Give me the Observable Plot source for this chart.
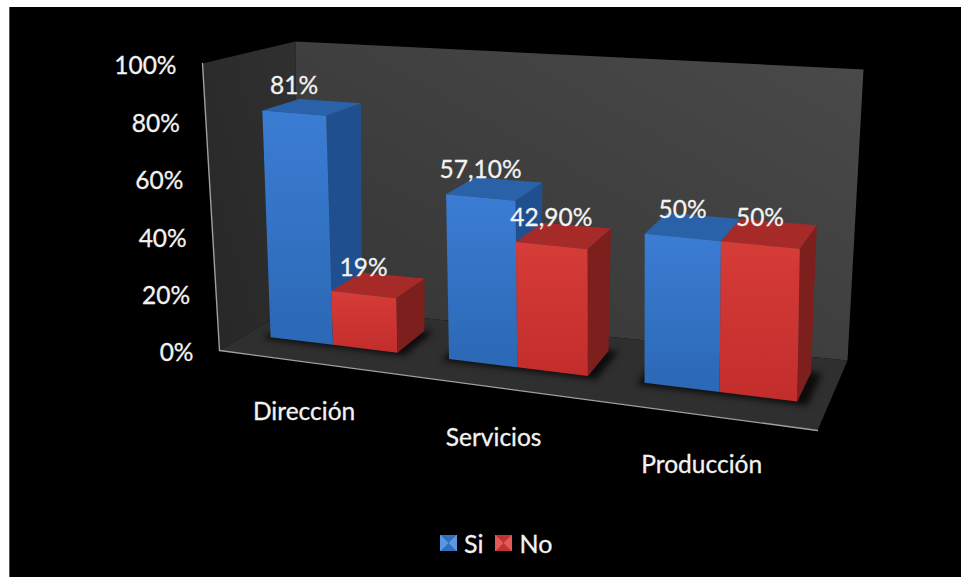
<!DOCTYPE html>
<html lang="es">
<head>
<meta charset="utf-8">
<title>Si / No por área</title>
<script src="https://cdn.jsdelivr.net/npm/d3@7"></script>
<script src="https://cdn.jsdelivr.net/npm/@observablehq/plot@0.6"></script>
<style>
  html, body { margin: 0; padding: 0; background: #fff; }
  body { width: 961px; height: 577px; overflow: hidden; position: relative; font-family: Lato, sans-serif; }
  #panel { position: absolute; left: 9px; top: 7px; right: 0; bottom: 0; background: #000; border-left: 1px solid #555; }
  #chart { position: absolute; left: 0; top: 0; }
  #chart svg { display: block; background: transparent; }
  #legend { position: absolute; left: 440px; top: 526px; display: flex; align-items: center; color: #f2f2f2; font-size: 25px; line-height: 34px; -webkit-text-stroke: 0.3px #f2f2f2; }
  #legend .swatch { display: inline-block; width: 17px; height: 16px; margin-right: 7px; filter: blur(0.5px); }
  #legend .entry { display: flex; align-items: center; margin-right: 12px; }
</style>
</head>
<body>
<div id="panel"></div>
<div id="chart"></div>
<div id="legend"></div>
<script>
// Survey answers per area, in percent.
const categories = ["Dirección", "Servicios", "Producción"];
const siValues = [81, 57.1, 50];
const noValues = [19, 42.9, 50];
const siLabels = ["81%", "57,10%", "50%"];
const noLabels = ["19%", "42,90%", "50%"];
const valueTicks = [0, 20, 40, 60, 80, 100];
const tickLabels = ["0%", "20%", "40%", "60%", "80%", "100%"];

const width = 961;
const height = 520;

// Corners of the 3D plot box on screen: front/back, bottom/top, left/right.
const box = {
  fbl: [219, 350], ftl: [202, 63], bbl: [295, 305], btl: [295, 41],
  fbr: [817, 430], ftr: [817, 114], bbr: [847, 360], btr: [863, 69]
};
const mix = (a, b, k) => [a[0] + (b[0] - a[0]) * k, a[1] + (b[1] - a[1]) * k];
const foreshorten = 0.15;

// t: along the category axis, depth: front to back, level: floor to ceiling (all 0 to 1).
function project(t, depth, level) {
  const u = t / (1 + foreshorten * (1 - t));
  const bottom = mix(mix(box.fbl, box.fbr, u), mix(box.bbl, box.bbr, u), depth);
  const top = mix(mix(box.ftl, box.ftr, u), mix(box.btl, box.btr, u), depth);
  return mix(bottom, top, level);
}

// Bar footprint inside each category band.
const barShare = 0.36;
const sideGap = (1 - 2 * barShare) / 2;
const depthFront = 0.36;
const depthBack = 0.78;

const series = [
  {name: "Si", values: siValues, labels: siLabels, front: "url(#siFront)", side: "#1f4f8f", top: "#2a62aa"},
  {name: "No", values: noValues, labels: noLabels, front: "url(#noFront)", side: "#7d1f1d", top: "#a52a28"}
];

const bars = categories.flatMap((category, c) => series.map((s, j) => ({
  category, series: s, value: s.values[c], label: s.labels[c],
  t0: (c + sideGap + j * barShare) / categories.length,
  t1: (c + sideGap + (j + 1) * barShare) / categories.length
})));

function polygon(id, fill, points) {
  return points.map(([x, y]) => ({id, fill, x, y}));
}

const wallPolys = [
  polygon("left", "url(#leftWall)", [project(0,0,0), project(0,0,1), project(0,1,1), project(0,1,0)]),
  polygon("back", "url(#backWall)", [project(0,1,0), project(0,1,1), project(1,1,1), project(1,1,0)]),
  polygon("floor", "#2f2f2f", [project(0,0,0), project(0,1,0), project(1,1,0), project(1,0,0)])
].flat();

// Soft contact shadow hugging the foot of each bar pair.
const shadowPolys = categories.flatMap((category, c) => {
  const a = (c + sideGap - 0.03) / categories.length;
  const b = (c + 1 - sideGap + 0.05) / categories.length;
  return polygon("shadow" + c, "#0c0c0c", [
    project(a, depthFront - 0.04, 0), project(a, depthBack, 0),
    project(b, depthBack + 0.01, 0), project(b, depthFront - 0.04, 0)
  ]);
});

const barFaces = bars.flatMap((b, i) => {
  const h = b.value / 100;
  const {t0, t1, series: s} = b;
  return [
    polygon(`side${i}`, s.side, [project(t1, depthFront, 0), project(t1, depthFront, h), project(t1, depthBack, h), project(t1, depthBack, 0)]),
    polygon(`top${i}`, s.top, [project(t0, depthFront, h), project(t0, depthBack, h), project(t1, depthBack, h), project(t1, depthFront, h)]),
    polygon(`front${i}`, s.front, [project(t0, depthFront, 0), project(t0, depthFront, h), project(t1, depthFront, h), project(t1, depthFront, 0)])
  ].flat();
});

const axisLines = [
  polygon("valueAxis", "none", [project(0,0,0), project(0,0,1)]),
  polygon("categoryAxis", "none", [project(0,0,0), project(1,0,0)])
].flat();

const tickRows = valueTicks.map((v, i) => {
  const [x, y] = project(0, 0, v / 100);
  return {x, y, text: tickLabels[i]};
});

const categoryRows = categories.map((text, c) => {
  const [x, y] = project((c + 0.5) / categories.length, 0, 0);
  return {x, y, text};
});

// Value labels sit above the middle of each bar's front top edge.
const valueRows = bars.map((b) => {
  const [x, y] = project((b.t0 + b.t1) / 2, depthFront, b.value / 100);
  return {x, y, text: b.label};
});

function gradient(defs, id, [x1, y1, x2, y2], stops) {
  const g = defs.append("linearGradient").attr("id", id)
    .attr("x1", x1).attr("y1", y1).attr("x2", x2).attr("y2", y2);
  stops.forEach(([offset, color]) => g.append("stop").attr("offset", offset).attr("stop-color", color));
}

function gradients() {
  const svg = d3.create("svg:g");
  const defs = svg.append("defs");
  gradient(defs, "siFront", [0, 0, 0, 1], [[0, "#3b7dd4"], [1, "#2b68b5"]]);
  gradient(defs, "noFront", [0, 0, 0, 1], [[0, "#d63c38"], [1, "#c22d2b"]]);
  gradient(defs, "backWall", [0, 1, 1, 0], [[0, "#343434"], [1, "#4a4a4a"]]);
  gradient(defs, "leftWall", [0, 1, 1, 0], [[0, "#272727"], [1, "#303030"]]);
  return svg.node();
}

const textStyle = {fontFamily: "Lato, sans-serif", fontSize: 24.5, fill: "#f2f2f2", stroke: "#f2f2f2", strokeWidth: 0.3};
const faceFill = {value: (d) => d.fill, scale: null};

const chart = Plot.plot({
  width, height,
  marginTop: 0, marginRight: 0, marginBottom: 0, marginLeft: 0,
  style: {background: "transparent"},
  x: {domain: [0, width], range: [0, width], axis: null},
  y: {domain: [0, height], range: [0, height], axis: null},
  marks: [
    gradients,
    Plot.line(wallPolys, {x: "x", y: "y", z: "id", fill: faceFill, stroke: "none", curve: "linear-closed"}),
    Plot.line(shadowPolys, {x: "x", y: "y", z: "id", fill: faceFill, stroke: "none", curve: "linear-closed", imageFilter: "blur(3px)"}),
    Plot.line(axisLines, {x: "x", y: "y", z: "id", stroke: "#a0a0a0", strokeWidth: 1.4}),
    Plot.line(barFaces, {x: "x", y: "y", z: "id", fill: faceFill, stroke: "none", curve: "linear-closed"}),
    Plot.text(tickRows, {x: "x", y: "y", text: "text", textAnchor: "end", dx: -26, dy: 3, ...textStyle}),
    Plot.text(categoryRows, {x: "x", y: "y", text: "text", dx: -4, dy: 50, ...textStyle}),
    Plot.text(valueRows, {x: "x", y: "y", text: "text", dy: -27, ...textStyle})
  ]
});
document.getElementById("chart").append(chart);

// Legend below the plot, with the pyramid-shaded swatches.
const shades = {Si: ["#3070bf", "#5b97de"], No: ["#bd3432", "#e25a56"]};
const legend = d3.select("#legend");
series.forEach((s) => {
  const entry = legend.append("span").attr("class", "entry");
  const [dark, light] = shades[s.name];
  entry.append("span").attr("class", "swatch")
    .style("background", `conic-gradient(from -45deg, ${dark} 0 25%, ${light} 25% 50%, ${dark} 50% 75%, ${light} 75%)`);
  entry.append("span").text(s.name);
});
</script>
</body>
</html>
